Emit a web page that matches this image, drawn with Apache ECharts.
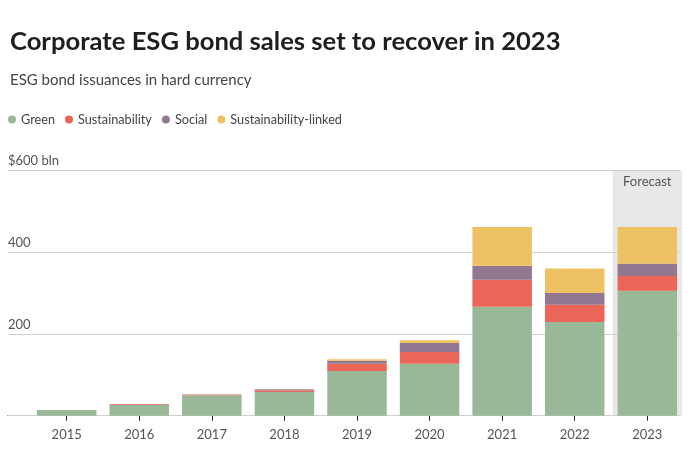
<!DOCTYPE html>
<html>
<head>
<meta charset="utf-8">
<script src="https://cdn.jsdelivr.net/npm/echarts@6/dist/echarts.min.js"></script>
<style>
html,body{margin:0;padding:0;background:#fff;}
#chart{width:693px;height:456px;}
</style>
</head>
<body>
<div id="chart"></div>
<script>
const years = ['2015','2016','2017','2018','2019','2020','2021','2022','2023'];
const green = [14, 27, 50, 58, 109.5, 127, 267, 229.5, 306];
const sustainability = [0, 1.5, 2, 4, 18, 29, 66, 42, 36];
const social = [0, 0, 0, 3, 7, 22, 34, 29, 30];
const sustainabilityLinked = [0, 0, 0, 0.5, 4, 7, 95, 60, 90];
const forecastBand = [null, null, null, null, null, null, null, null, 600];
const yTicks = {0: '', 200: '200', 400: '400', 600: '$600 bln'};

const FONT = 'Lato, "Noto Sans", sans-serif';
const colors = {green:'#99b898', sus:'#ec6559', soc:'#927790', slb:'#eec264'};

const chart = echarts.init(document.getElementById('chart'), null, {renderer:'canvas'});
const plotTop = 170.7, plotBottom = 40.3;

function stackSeries(name, data, color){
  return {
    name, type:'bar', stack:'total', data, xAxisIndex:1, yAxisIndex:1,
    barWidth: 59.5, itemStyle:{color}, z:2, emphasis:{disabled:true}
  };
}

chart.setOption({
  animation:false,
  textStyle:{fontFamily:FONT},
  title:[
    {text:'Corporate ESG bond sales set to recover in 2023', left:5, top:24,
     textStyle:{fontSize:25.6, fontWeight:'bold', color:'#1e1e1e', fontFamily:FONT}},
    {text:'ESG bond issuances in hard currency', left:5, top:68,
     textStyle:{fontSize:15, fontWeight:'normal', color:'#444', fontFamily:FONT}}
  ],
  legend:{
    left:3, top:108, icon:'circle', itemWidth:8, itemHeight:8, itemGap:10,
    textStyle:{fontSize:12.7, color:'#444', fontFamily:FONT},
    data:['Green','Sustainability','Social','Sustainability-linked'],
    selectedMode:false
  },
  grid:[
    {left:8, right:13, top:plotTop, bottom:plotBottom},
    {left:30.4, right:9.4, top:plotTop, bottom:plotBottom}
  ],
  xAxis:[
    {type:'category', gridIndex:0, data:years, show:true,
     axisLine:{show:true, lineStyle:{color:'#222', width:1}},
     axisTick:{show:false}, axisLabel:{show:false}, splitLine:{show:false}},
    {type:'category', gridIndex:1, data:years,
     axisLine:{show:false},
     axisTick:{show:true, alignWithLabel:true, length:5, lineStyle:{color:'#222'}},
     axisLabel:{fontSize:13, color:'#555', margin:13, fontFamily:FONT}},
    {type:'category', gridIndex:1, data:years, show:false}
  ],
  yAxis:[
    {type:'value', gridIndex:0, min:0, max:600, interval:200, z:1,
     axisLine:{show:false}, axisTick:{show:false},
     splitLine:{lineStyle:{color:'#cfcfcf', width:1}},
     axisLabel:{inside:true, margin:0, verticalAlign:'bottom', padding:[0,0,3,0],
       fontSize:13, color:'#555', fontFamily:FONT,
       formatter:v => yTicks[v] !== undefined ? yTicks[v] : ''}},
    {type:'value', gridIndex:1, min:0, max:600, show:false, splitLine:{show:false}}
  ],
  series:[
    {name:'forecast', type:'bar', data:forecastBand, xAxisIndex:2, yAxisIndex:1,
     barWidth:69, itemStyle:{color:'#e8e8e8'}, z:0.5, silent:true,
     label:{show:true, position:'insideTop', distance:5, formatter:'Forecast',
       fontSize:13, color:'#555', fontFamily:FONT}},
    stackSeries('Green', green, colors.green),
    stackSeries('Sustainability', sustainability, colors.sus),
    stackSeries('Social', social, colors.soc),
    stackSeries('Sustainability-linked', sustainabilityLinked, colors.slb)
  ]
});
</script>
</body>
</html>
